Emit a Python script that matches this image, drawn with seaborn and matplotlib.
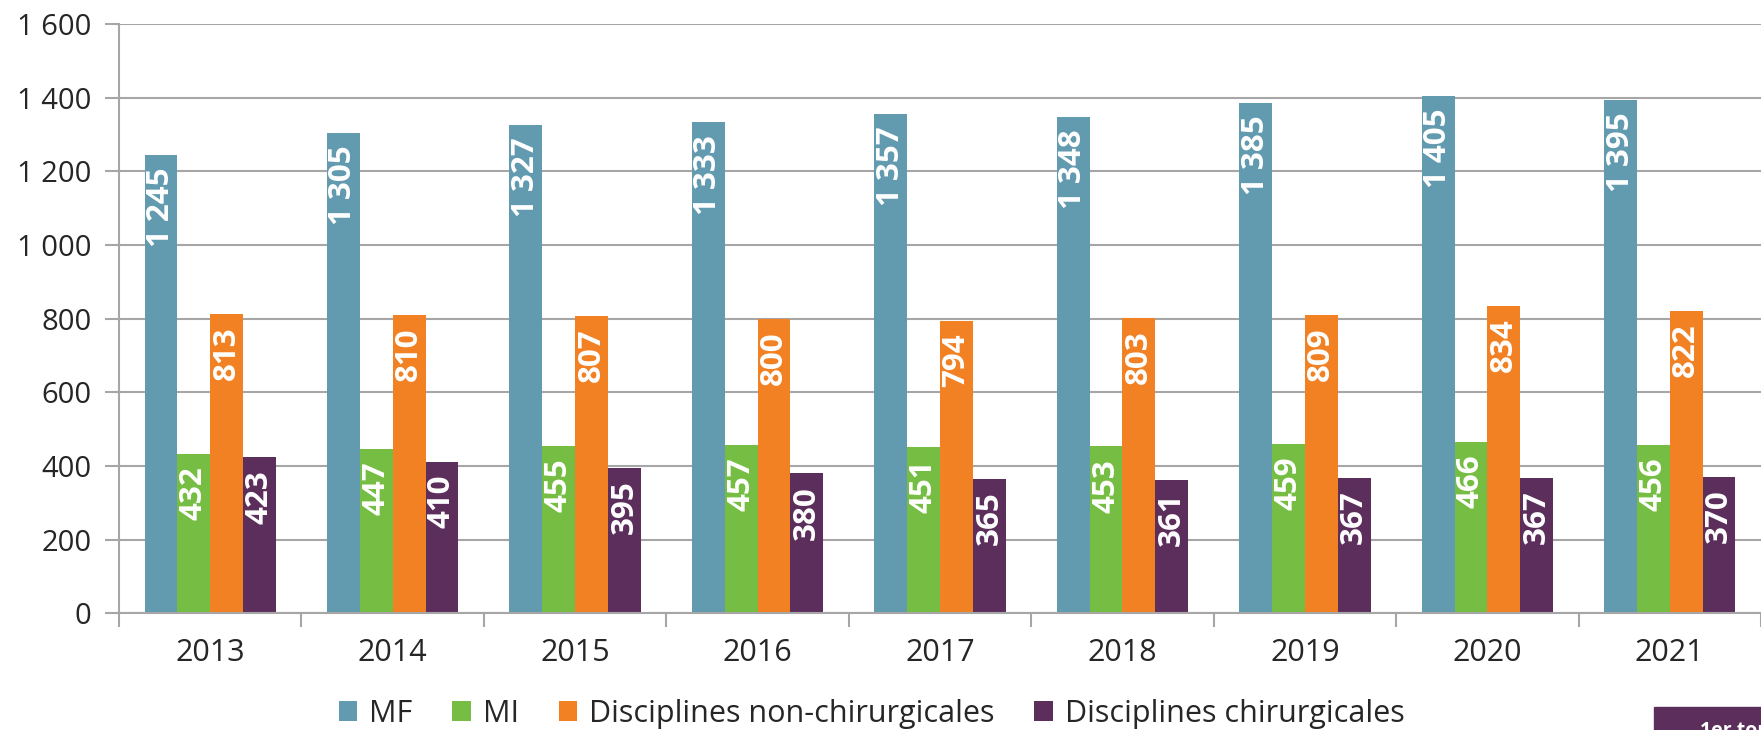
import numpy as np
import pandas as pd
import matplotlib.pyplot as plt
import seaborn as sns
from matplotlib.ticker import FuncFormatter, MultipleLocator
from matplotlib.patches import Rectangle

years = ["2013", "2014", "2015", "2016", "2017", "2018", "2019", "2020", "2021"]
series = ["MF", "MI", "Disciplines non-chirurgicales", "Disciplines chirurgicales"]
mf = [1245, 1305, 1327, 1333, 1357, 1348, 1385, 1405, 1395]
mi = [432, 447, 455, 457, 451, 453, 459, 466, 456]
non_chir = [813, 810, 807, 800, 794, 803, 809, 834, 822]
chir = [423, 410, 395, 380, 365, 361, 367, 367, 370]
colors = ["#629AAF", "#76BE43", "#F28124", "#5C2E5C"]

df = pd.DataFrame({
    "annee": years * 4,
    "serie": np.repeat(series, len(years)),
    "valeur": mf + mi + non_chir + chir,
})


def fmt_space(v):
    s = f"{int(round(v)):,}"
    return s.replace(",", " ")


sns.set_theme(style="white")
plt.rcParams["font.family"] = ["Open Sans", "DejaVu Sans"]

fig = plt.figure(figsize=(17.61, 7.30), dpi=100)
ax = fig.add_axes([0.0676, 0.160, 0.9324, 0.807])

sns.barplot(data=df, x="annee", y="valeur", hue="serie", hue_order=series,
            palette=colors, width=0.72, saturation=1, linewidth=0, ax=ax)

# data labels, white, rotated, inside the top of each bar
for cont in ax.containers:
    for rect in cont:
        h = rect.get_height()
        ax.annotate(fmt_space(h), (rect.get_x() + rect.get_width() / 2, h),
                    xytext=(0, -9), textcoords="offset points",
                    rotation=90, ha="center", va="top",
                    color="white", fontsize=22.5, fontweight="bold")

ax.set_ylim(0, 1600)
ax.set_xlim(-0.5, len(years) - 0.5)
ax.yaxis.set_major_locator(MultipleLocator(200))
ax.yaxis.set_major_formatter(FuncFormatter(lambda v, p: fmt_space(v)))
ax.yaxis.grid(True, color="#A6A6A6", linewidth=1.5)
ax.set_axisbelow(True)

# x ticks between groups
ax.set_xticks(np.arange(-0.5, len(years), 1.0), minor=False)
ax.set_xticklabels([])
ax.set_xticks(np.arange(len(years)), minor=True)
ax.set_xticklabels(years, minor=True)
ax.tick_params(axis="x", which="major", direction="out", length=10, width=1.5,
               color="#A6A6A6", bottom=True)
ax.tick_params(axis="x", which="minor", length=0, pad=18, labelsize=22)
ax.tick_params(axis="y", direction="out", length=10, width=1.5, color="#A6A6A6",
               left=True, labelsize=21, pad=10)

for side in ["top", "right"]:
    ax.spines[side].set_visible(False)
for side in ["left", "bottom"]:
    ax.spines[side].set_color("#A6A6A6")
    ax.spines[side].set_linewidth(1.5)

ax.set_xlabel("")
ax.set_ylabel("")

handles, labels = ax.get_legend_handles_labels()
ax.legend(handles, labels, loc="center", bbox_to_anchor=(0.495, 0.022),
          bbox_transform=fig.transFigure, ncol=4, frameon=False, fontsize=22,
          handlelength=0.6, handleheight=0.6, handletextpad=0.4, columnspacing=1.3)

# page element cut at bottom right
fig.patches.append(Rectangle((1654 / 1761, 0), 1 - 1654 / 1761, 23 / 730,
                             transform=fig.transFigure, color="#5C2E5C", zorder=5))
fig.text(1700 / 1761, 9 / 730, "1er tour", color="white", fontsize=14,
         fontweight="bold", va="top", ha="left", zorder=6)

fig.savefig("out.png", dpi=100)
